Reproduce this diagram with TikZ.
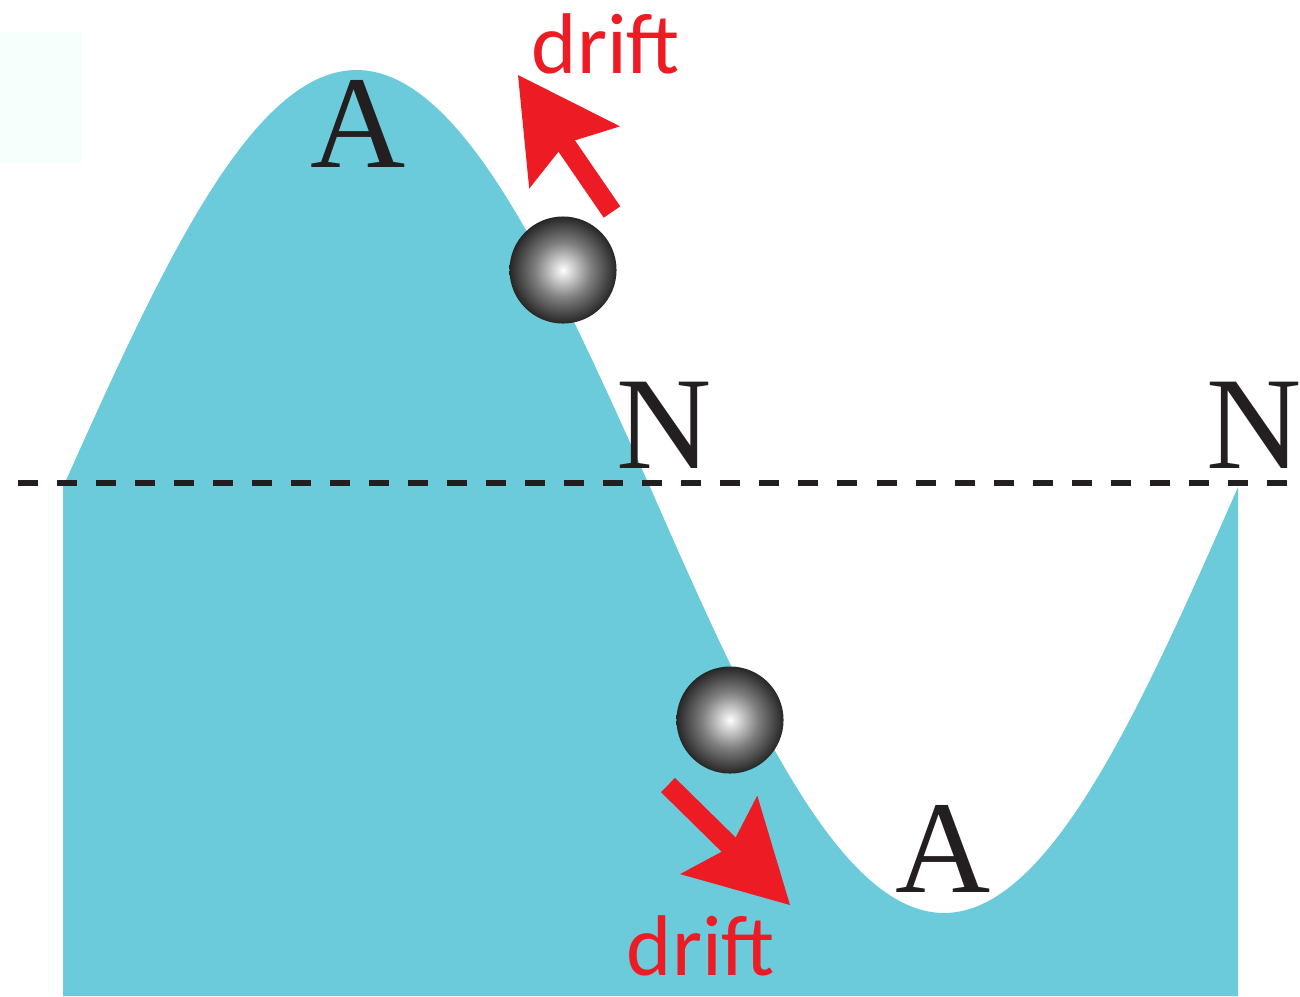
\documentclass[tikz,border=0pt]{standalone}
\usepackage{fontspec}
\setmainfont{Liberation Serif}
\newfontfamily\driftfont{Carlito}
\usetikzlibrary{arrows.meta}
\definecolor{wavecyan}{RGB}{108,203,219}
\definecolor{driftred}{RGB}{237,28,36}
\definecolor{inkblack}{RGB}{35,31,32}
\definecolor{ghostcyan}{RGB}{247,255,253}
\pgfdeclareradialshading{sphere}{\pgfpoint{0bp}{0bp}}{color(0bp)=(white); color(3bp)=(white!88!black); color(13bp)=(white!50!black); color(25bp)=(black!85); color(50bp)=(black!85)}
\begin{document}
\begin{tikzpicture}[
      x=0.01cm, y=-0.01cm,
      wave/.style={fill=wavecyan},
      axis/.style={draw=inkblack, line width=1.5pt, dash pattern=on 0.2cm off 0.19cm},
      pole/.style={inner sep=0pt, text=inkblack, font=\fontsize{37.5}{40}\selectfont},
      ball/.style={circle, inner sep=0pt, minimum size=1.07cm, shading=sphere},
      driftlbl/.style={inner sep=0pt, text=driftred, font=\driftfont\fontsize{24.5}{27}\selectfont},
      drift/.style={draw=driftred, line width=0.2cm, -{Stealth[length=1cm, width=1.1cm, inset=0.17cm, line width=0pt]}}
  ]
    \useasboundingbox (0,0) rectangle (1300,996);
    \fill[ghostcyan] (0,32) rectangle (82,163);

    % standing wave
    \fill[wave] (63,996) -- (63,487)
      -- plot[domain=63:650, samples=90] (\x,{487-417*sin((\x-63)/587*180)})
      -- plot[domain=650:1238, samples=90] (\x,{487+426*sin((\x-650)/588*180)})
      -- (1238,996) -- cycle;

    \coordinate (axisL) at (18,483);
    \coordinate (axisR) at (1300,483);
    \draw[axis] (axisL) -- (axisR);

    % antinodes and nodes
    \node[pole, anchor=base] (antiup) at (358,167) {A};
    \node[pole, anchor=base] (antidown) at (943,892) {A};
    \node[pole, anchor=base] (nodemid) at (664,468) {N};
    \node[pole, anchor=base] (noderight) at (1254,468) {N};

    % particles
    \node[ball] (ballup) at (563,270) {};
    \node[ball] (balldown) at (730,720) {};

    \coordinate (tailup) at (612,212);
    \coordinate (tipup) at (518,75);
    \coordinate (taildown) at (668,785);
    \coordinate (tipdown) at (790,905);
    \draw[drift] (tailup) -- (tipup);
    \draw[drift] (taildown) -- (tipdown);

    \node[driftlbl, anchor=base] (driftup) at (606,73) {drift};
    \node[driftlbl, anchor=base] (driftdown) at (701,975) {drift};
  \end{tikzpicture}
\end{document}
